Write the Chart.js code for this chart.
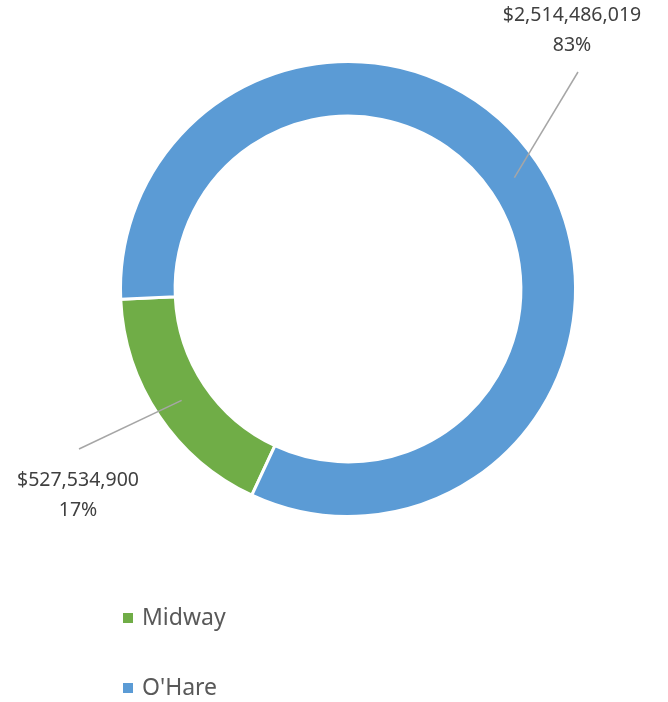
<!DOCTYPE html>
<html>
<head>
<meta charset="UTF-8">
<title>Airport doughnut</title>
<script src="https://cdn.jsdelivr.net/npm/chart.js"></script>
<style>
html, body { margin: 0; padding: 0; background: #fff; }
#wrap { width: 668px; height: 702px; }
</style>
</head>
<body>
<div id="wrap"><canvas id="myChart" width="668" height="702"></canvas></div>
<script>
const labels = ["Midway", "O'Hare"];
const amounts = [527534900, 2514486019];
const valueLabels = ["$527,534,900", "$2,514,486,019"];
const pctLabels = ["17%", "83%"];
const colors = ["#70AD47", "#5B9BD5"];

// where each callout text sits (centre of first line) and where its line ends
const callouts = [
  { tx: 78, ty: 480, lx: 79, ly: 449 },
  { tx: 572, ty: 15, lx: 578, ly: 72 }
];

const labelPlugin = {
  id: 'calloutsAndLegend',
  afterDraw(chart) {
    const ctx = chart.ctx;
    const meta = chart.getDatasetMeta(0);
    ctx.save();
    meta.data.forEach((arc, i) => {
      const p = arc.getProps(['x', 'y', 'startAngle', 'endAngle', 'innerRadius', 'outerRadius'], true);
      const mid = (p.startAngle + p.endAngle) / 2;
      const r = (p.innerRadius + p.outerRadius) / 2;
      const sx = p.x + Math.cos(mid) * r;
      const sy = p.y + Math.sin(mid) * r;
      const c = callouts[i];
      ctx.strokeStyle = '#A6A6A6';
      ctx.lineWidth = 1.5;
      ctx.beginPath();
      ctx.moveTo(sx, sy);
      ctx.lineTo(c.lx, c.ly);
      ctx.stroke();
      ctx.fillStyle = '#404040';
      ctx.font = '19.5px "Noto Sans", sans-serif';
      ctx.textAlign = 'center';
      ctx.textBaseline = 'middle';
      ctx.fillText(valueLabels[i], c.tx, c.ty);
      ctx.fillText(pctLabels[i], c.tx, c.ty + 30);
    });
    // legend, vertical
    ctx.font = '23px "Noto Sans", sans-serif';
    ctx.textAlign = 'left';
    ctx.textBaseline = 'middle';
    labels.forEach((lab, i) => {
      const y = 618 + i * 70;
      ctx.fillStyle = colors[i];
      ctx.fillRect(123, y - 5, 10, 10);
      ctx.fillStyle = '#595959';
      ctx.fillText(lab, 142, y);
    });
    ctx.restore();
  }
};

new Chart(document.getElementById('myChart'), {
  type: 'doughnut',
  data: {
    labels: labels,
    datasets: [{
      data: amounts,
      backgroundColor: colors,
      borderColor: '#ffffff',
      borderWidth: 3
    }]
  },
  options: {
    responsive: false,
    animation: false,
    rotation: 205,
    cutout: '76%',
    layout: { padding: { left: 119, right: 91, top: 60, bottom: 184 } },
    plugins: {
      legend: { display: false },
      tooltip: { enabled: false }
    }
  },
  plugins: [labelPlugin]
});
</script>
</body>
</html>
